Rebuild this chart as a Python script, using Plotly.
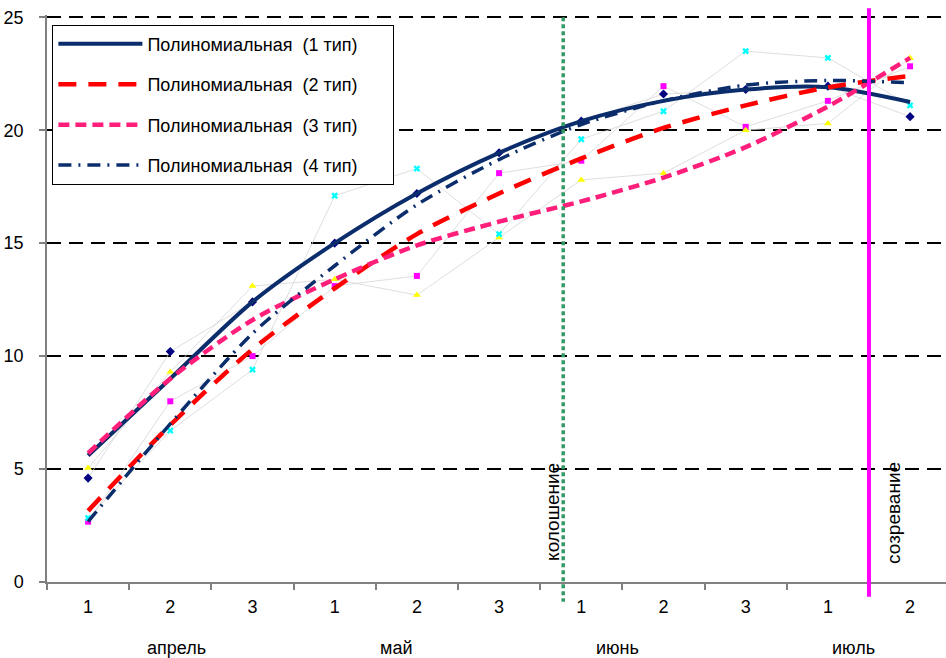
import plotly.graph_objects as go

# ---- data ----
categories = list(range(1, 12))
decade_labels = ["1", "2", "3", "1", "2", "3", "1", "2", "3", "1", "2"]
months = ["апрель", "май", "июнь", "июль"]
month_pos = [2.07, 4.74, 7.44, 10.31]

type1 = [4.6, 10.2, 12.4, 15.0, 17.2, 19.0, 20.4, 21.6, 21.8, 21.95, 20.6]
type2 = [2.67, 8.0, 10.0, 13.1, 13.55, 18.1, 18.65, 21.95, 20.15, 21.3, 22.83]
type3 = [5.05, 9.3, 13.1, 13.4, 12.7, 15.25, 17.8, 18.1, 20.0, 20.3, 23.2]
type4 = [2.83, 6.7, 9.4, 17.1, 18.3, 15.4, 19.6, 20.84, 23.5, 23.2, 21.1]

trend1 = [5.6, 9.0, 12.4, 15.0, 17.2, 19.0, 20.4, 21.3, 21.8, 21.9, 21.25]
trend2 = [3.15, 6.95, 10.3, 13.0, 15.4, 17.2, 18.75, 20.1, 21.1, 21.9, 22.4]
trend3 = [5.7, 9.0, 11.6, 13.4, 14.9, 15.95, 16.85, 17.9, 19.25, 21.05, 23.2]
trend4 = [2.67, 7.0, 11.0, 14.0, 16.7, 18.7, 20.25, 21.3, 22.0, 22.2, 22.1]

NB = "\u00a0"
legend_names = [f"Полиномиальная{NB} ({k} тип)" + NB * 6 for k in (1, 2, 3, 4)]

stage_names = ["колошение", "созревание"]
stage_x = [6.78, 10.5]

FONT = "Liberation Sans, Arial, sans-serif"
NAVY = "#0B2D6C"

fig = go.Figure()

series = [type1, type2, type3, type4]
markers = [
    dict(symbol="diamond", size=7, color="#000080"),
    dict(symbol="square", size=6, color="#FF00FF"),
    dict(symbol="triangle-up", size=7, color="#FFFF00"),
    dict(symbol="x", size=6, color="#00FFFF"),
]

# faint connector lines
for s in series:
    fig.add_trace(go.Scatter(x=categories, y=s, mode="lines",
                             line=dict(color="#D6D6D6", width=0.8),
                             showlegend=False, hoverinfo="skip"))
# markers
for s, m in zip(series, markers):
    fig.add_trace(go.Scatter(x=categories, y=s, mode="markers",
                             marker=dict(line=dict(width=0), **m),
                             showlegend=False))

trends = [trend1, trend2, trend3, trend4]
styles = [
    dict(color=NAVY, width=4, dash="solid"),
    dict(color="#FF0000", width=4.5, dash="18px,12px"),
    dict(color="#FF1F7A", width=4.5, dash="11px,6px"),
    dict(color=NAVY, width=3.5, dash="13px,7px,2px,7px"),
]
for i, (t, st, nm) in enumerate(zip(trends, styles, legend_names)):
    fig.add_trace(go.Scatter(x=categories, y=t, mode="lines", name=nm,
                             line=dict(shape="spline", smoothing=0.8, **st),
                             legendgroup=f"g{i}"))

# stage lines
fig.add_shape(type="line", xref="x", yref="paper", x0=stage_x[0], x1=stage_x[0],
              y0=0.996, y1=-0.035, line=dict(color="#339966", width=3.5, dash="4px,3px"),
              layer="above")
fig.add_shape(type="line", xref="x", yref="paper", x0=stage_x[1], x1=stage_x[1],
              y0=1.012, y1=-0.026, line=dict(color="#FF00FF", width=4),
              layer="above")

ann = []
ann.append(dict(x=stage_x[0] - 0.125, y=3.1, xref="x", yref="y", text=stage_names[0],
                textangle=-90, showarrow=False, xanchor="center", yanchor="middle",
                font=dict(family=FONT, size=19, color="black")))
ann.append(dict(x=stage_x[1] + 0.29, y=3.05, xref="x", yref="y", text=stage_names[1],
                textangle=-90, showarrow=False, xanchor="center", yanchor="middle",
                font=dict(family=FONT, size=19, color="black")))
for mname, mx in zip(months, month_pos):
    ann.append(dict(x=mx, y=-0.117, xref="x", yref="paper", text=mname, showarrow=False,
                    xanchor="center", yanchor="middle",
                    font=dict(family=FONT, size=18, color="black")))

fig.update_layout(
    width=946, height=658,
    margin=dict(l=47, r=0, t=15, b=76),
    paper_bgcolor="white", plot_bgcolor="white",
    font=dict(family=FONT, size=18, color="black"),
    annotations=ann,
    legend=dict(x=0.006, y=0.983, xanchor="left", yanchor="top",
                bgcolor="white", bordercolor="#000000", borderwidth=1,
                font=dict(family=FONT, size=18, color="black"),
                tracegroupgap=14, itemwidth=84),
    xaxis=dict(range=[0.5, 11.437], tickvals=categories, ticktext=decade_labels,
               ticks="", showgrid=False, zeroline=False,
               showline=True, linecolor="#808080", linewidth=1.5,
               minor=dict(ticks="outside", tick0=0.5, dtick=1, ticklen=6,
                          tickcolor="#808080", tickwidth=1.5, showgrid=False),
               ticklabelstandoff=8,
               tickfont=dict(family=FONT, size=18, color="black")),
    yaxis=dict(range=[0, 25.1], tickvals=[0, 5, 10, 15, 20, 25],
               ticks="outside", ticklen=6, tickcolor="#808080", tickwidth=1.5,
               showgrid=True, gridcolor="black", gridwidth=2, griddash="14px,8px",
               zeroline=False, showline=True, linecolor="#808080", linewidth=1.5,
               ticklabelstandoff=12,
               tickfont=dict(family=FONT, size=18, color="black")),
)

fig.write_html("out.html")
